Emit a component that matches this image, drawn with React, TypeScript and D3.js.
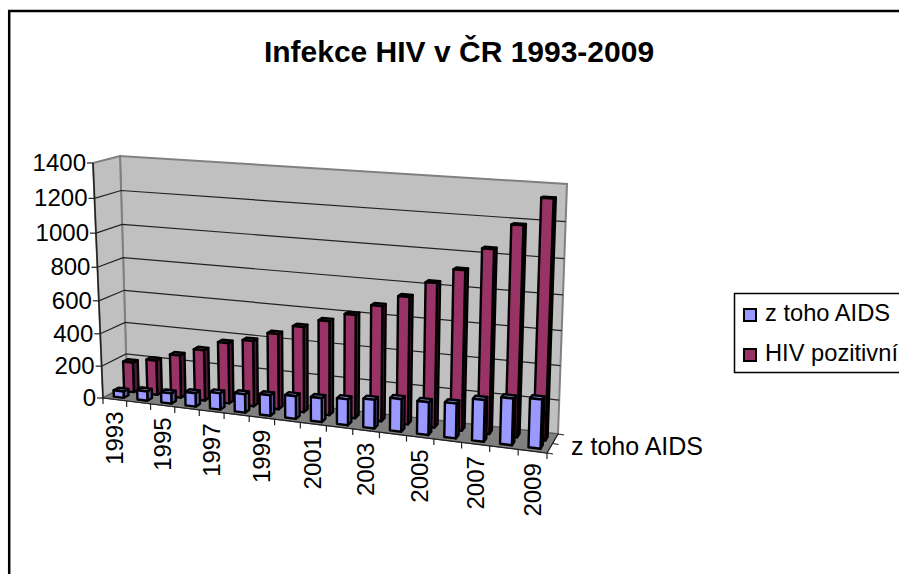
import React from 'react';
import * as d3 from 'd3';

const years = ['1993','1994','1995','1996','1997','1998','1999','2000','2001','2002','2003','2004','2005','2006','2007','2008','2009'];
const aids = [40, 58, 64, 83, 100, 112, 124, 136, 142, 153, 168, 190, 190, 200, 238, 264, 276];
const hiv = [187, 216, 264, 312, 371, 399, 456, 512, 561, 611, 676, 741, 832, 916, 1042, 1180, 1331];
const valueTicks = [0, 200, 400, 600, 800, 1000, 1200, 1400];
const seriesNames = ['z toho AIDS', 'HIV pozitivní'];

const W = 899;
const H = 574;
const FONT = '"Liberation Sans", Arial, sans-serif';

// corners of the 3d box as they land on screen: [x, y]
const corners = {
  flb: [103, 398], frb: [547, 453], blb: [127, 385], brb: [558, 434],
  flt: [93, 163], frt: [556, 188], blt: [120, 156], brt: [567, 184],
};

const lerp = (a: number, b: number, t: number) => a + (b - a) * t;
// foreshortening of the perspective view
const warp = (t: number, c: number) => (t * (1 - c)) / (1 - c * t);

// u along the years, v into the depth, w up the value axis (all 0..1)
const project = (u: number, v: number, w: number): [number, number] => {
  const c = corners;
  const uu = warp(u, 0.1);
  const ww = warp(w, 0.06);
  const at = (i: number) => {
    const bottom = lerp(lerp(c.flb[i], c.frb[i], uu), lerp(c.blb[i], c.brb[i], uu), v);
    const top = lerp(lerp(c.flt[i], c.frt[i], uu), lerp(c.blt[i], c.brt[i], uu), v);
    return lerp(bottom, top, ww);
  };
  return [at(0), at(1)];
};

const xScale = d3.scaleBand<string>().domain(years).range([0, 1]).paddingInner(0).paddingOuter(0);
const yScale = d3.scaleLinear().domain([0, 1400]).range([0, 1]);
const line = d3.line<[number, number]>();
const poly = (pts: [number, number][]) => line(pts) + 'Z';

const barFrac = 0.42;
const depthBands = [[0.17, 0.37], [0.6, 0.8]];

const seriesStyle = [
  { front: '#9999FF', side: '#5b5b99', top: '#7a7acc' },
  { front: '#993366', side: '#4d1a33', top: '#7a2952' },
];

function Bar({ year, value, s }: { year: string; value: number; s: number }) {
  const bw = xScale.bandwidth();
  const u0 = xScale(year)! + (bw * (1 - barFrac)) / 2;
  const u1 = u0 + bw * barFrac;
  const [v0, v1] = depthBands[s];
  const w = yScale(value);
  const st = seriesStyle[s];
  const common = { stroke: '#000', strokeWidth: 2.4, strokeLinejoin: 'round' as const };
  return (
    <g>
      <path d={poly([project(u1, v0, 0), project(u1, v1, 0), project(u1, v1, w), project(u1, v0, w)])} fill={st.side} {...common} />
      <path d={poly([project(u0, v0, w), project(u1, v0, w), project(u1, v1, w), project(u0, v1, w)])} fill={st.top} {...common} />
      <path d={poly([project(u0, v0, 0), project(u1, v0, 0), project(u1, v0, w), project(u0, v0, w)])} fill={st.front} {...common} />
    </g>
  );
}

export default function App() {
  const edgeTicks = [0, ...years.map((y) => xScale(y)! + xScale.bandwidth())];
  return (
    <svg width={W} height={H} style={{ position: 'absolute', left: 0, top: 0, display: 'block', background: '#fff' }} fontFamily={FONT}>
      <path d={`M9.2,${H}V11H${W}`} fill="none" stroke="#000" strokeWidth={2.5} />

      <text x={459} y={62} textAnchor="middle" fontSize={30} fontWeight="bold">Infekce HIV v ČR 1993-2009</text>

      {/* walls and floor */}
      <path d={poly([project(0, 1, 0), project(1, 1, 0), project(1, 1, 1), project(0, 1, 1)])} fill="#C0C0C0" stroke="#808080" strokeWidth={2} />
      <path d={poly([project(0, 0, 0), project(0, 1, 0), project(0, 1, 1), project(0, 0, 1)])} fill="#C0C0C0" stroke="#808080" strokeWidth={2} />
      <path d={poly([project(0, 0, 0), project(1, 0, 0), project(1, 1, 0), project(0, 1, 0)])} fill="#808080" stroke="#555" strokeWidth={1} />

      {/* gridlines */}
      {valueTicks.slice(1, -1).map((t) => (
        <path key={t} d={line([project(0, 0, yScale(t)), project(0, 1, yScale(t)), project(1, 1, yScale(t))])!} fill="none" stroke="#222" strokeWidth={1.2} />
      ))}

      {/* value axis */}
      <path d={line([project(0, 0, 0), project(0, 0, 1)])!} stroke="#222" strokeWidth={1.5} />
      {valueTicks.map((t) => {
        const [x, y] = project(0, 0, yScale(t));
        return (
          <g key={t}>
            <line x1={x - 6} x2={x} y1={y} y2={y} stroke="#222" strokeWidth={1.2} />
            <text x={x - 7} y={y + 8} textAnchor="end" fontSize={24}>{t}</text>
          </g>
        );
      })}

      {/* bars, back row first */}
      {years.map((y, i) => <Bar key={y} year={y} value={hiv[i]} s={1} />)}
      {years.map((y, i) => <Bar key={y} year={y} value={aids[i]} s={0} />)}

      {/* category axis */}
      <path d={line([project(0, 0, 0), project(1, 0, 0), project(1, 1, 0)])!} fill="none" stroke="#222" strokeWidth={1.2} />
      {edgeTicks.map((u) => {
        const [x, y] = project(u, 0, 0);
        return <line key={u} x1={x} x2={x} y1={y} y2={y + 6} stroke="#222" strokeWidth={1.2} />;
      })}
      {years.map((yr, i) => {
        if (i % 2) return null;
        const [x, y] = project(xScale(yr)! + xScale.bandwidth() / 2, 0, 0);
        return (
          <text key={yr} transform={`translate(${x + 8},${y + 12}) rotate(-90)`} textAnchor="end" fontSize={24}>{yr}</text>
        );
      })}

      {/* series axis */}
      {[0, 0.5, 1].map((v) => {
        const [x, y] = project(1, v, 0);
        return <line key={v} x1={x} x2={x + 6} y1={y} y2={y + 1} stroke="#222" strokeWidth={1.2} />;
      })}
      <text x={571} y={455} fontSize={25}>{seriesNames[0]}</text>

      {/* legend */}
      <rect x={734.5} y={293.5} width={200} height={79} fill="#fff" stroke="#000" strokeWidth={1.5} />
      {seriesNames.map((n, i) => (
        <g key={n}>
          <rect x={744} y={309 + i * 40} width={12} height={12} fill={seriesStyle[i].front} stroke="#000" strokeWidth={2} />
          <text x={765} y={321 + i * 39.5} fontSize={23.7}>{n}</text>
        </g>
      ))}
    </svg>
  );
}
